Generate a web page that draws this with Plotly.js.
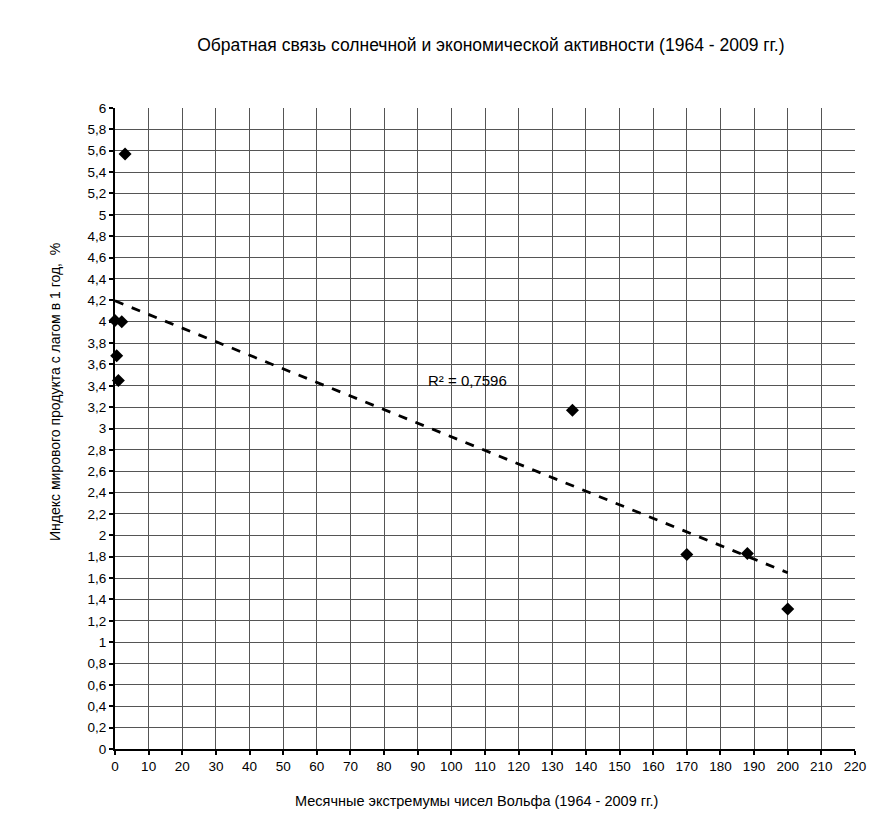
<!DOCTYPE html>
<html><head><meta charset="utf-8">
<script src="https://cdn.plot.ly/plotly-3.0.1.min.js"></script>
<style>body{margin:0;background:#fff}#top{position:absolute;left:7px;top:8px;width:868px;height:2px;background:#999}</style>
</head><body>
<div id="top"></div>
<div id="chart" style="width:875px;height:834px"></div>
<script>
const wolfNumbers = [3, 0, 2, 0.5, 1, 136, 170, 188, 200];
const productIndex = [5.57, 4.01, 4.0, 3.68, 3.45, 3.17, 1.82, 1.83, 1.31];
const r2Label = "R² = 0,7596";
const chartTitle = 'Обратная связь солнечной и экономической активности (1964 - 2009 гг.)';
const xTitle = 'Месячные экстремумы чисел Вольфа (1964 - 2009 гг.)';
const yTitle = 'Индекс мирового продукта с лагом в 1 год,  %';

// least-squares trend line
const n = wolfNumbers.length;
const mx = wolfNumbers.reduce((a,b)=>a+b,0)/n;
const my = productIndex.reduce((a,b)=>a+b,0)/n;
let sxy=0, sxx=0;
for(let i=0;i<n;i++){sxy+=(wolfNumbers[i]-mx)*(productIndex[i]-my);sxx+=(wolfNumbers[i]-mx)**2;}
const slope=sxy/sxx, icpt=my-slope*mx;
const xmin=0, xmax=Math.max(...wolfNumbers);
const trendX=[xmin,xmax], trendY=trendX.map(x=>icpt+slope*x);

const traces=[
 {x:trendX,y:trendY,mode:'lines',line:{color:'#000',width:2.8,dash:'dash'},hoverinfo:'skip',cliponaxis:false},
 {x:wolfNumbers,y:productIndex,mode:'markers',marker:{symbol:'diamond',size:10,color:'#000'},cliponaxis:false}
];
const fam='Liberation Sans, Arial, sans-serif';
const tickFont={family:fam,size:13.5,color:'#000'};
const layout={
 width:875,height:834,showlegend:false,separators:', ',
 margin:{l:115,r:20,t:108,b:85},
 paper_bgcolor:'#fff',plot_bgcolor:'#fff',
 font:tickFont,
 title:{text:chartTitle,font:{family:fam,size:17.5,color:'#000'},x:0.561,xanchor:'center',y:0.946,yanchor:'middle'},
 xaxis:{range:[0,220],dtick:10,tick0:0,showgrid:true,gridcolor:'#555',gridwidth:1,
   showline:true,linecolor:'#000',linewidth:2,ticks:'outside',ticklen:4,tickcolor:'#000',tickwidth:2,zeroline:false,
   tickfont:tickFont},
 yaxis:{range:[0,6],dtick:0.2,tick0:0,showgrid:true,gridcolor:'#555',gridwidth:1,
   showline:true,linecolor:'#000',linewidth:2,ticks:'outside',ticklen:4,tickcolor:'#000',tickwidth:2,zeroline:false,
   tickfont:tickFont},
 annotations:[
  {x:92.5,y:3.45,xref:'x',yref:'y',text:r2Label,showarrow:false,xanchor:'left',yanchor:'middle',font:{family:fam,size:15,color:'#000'}},
  {x:0.488,y:-0.081,xref:'paper',yref:'paper',text:xTitle,showarrow:false,xanchor:'center',yanchor:'middle',font:{family:fam,size:14.5,color:'#000'}},
  {x:-0.081,y:0.557,xref:'paper',yref:'paper',text:yTitle,textangle:-90,showarrow:false,xanchor:'center',yanchor:'middle',font:{family:fam,size:14,color:'#000'}}
 ]
};
Plotly.newPlot('chart',traces,layout,{displayModeBar:false});
</script>
</body></html>
